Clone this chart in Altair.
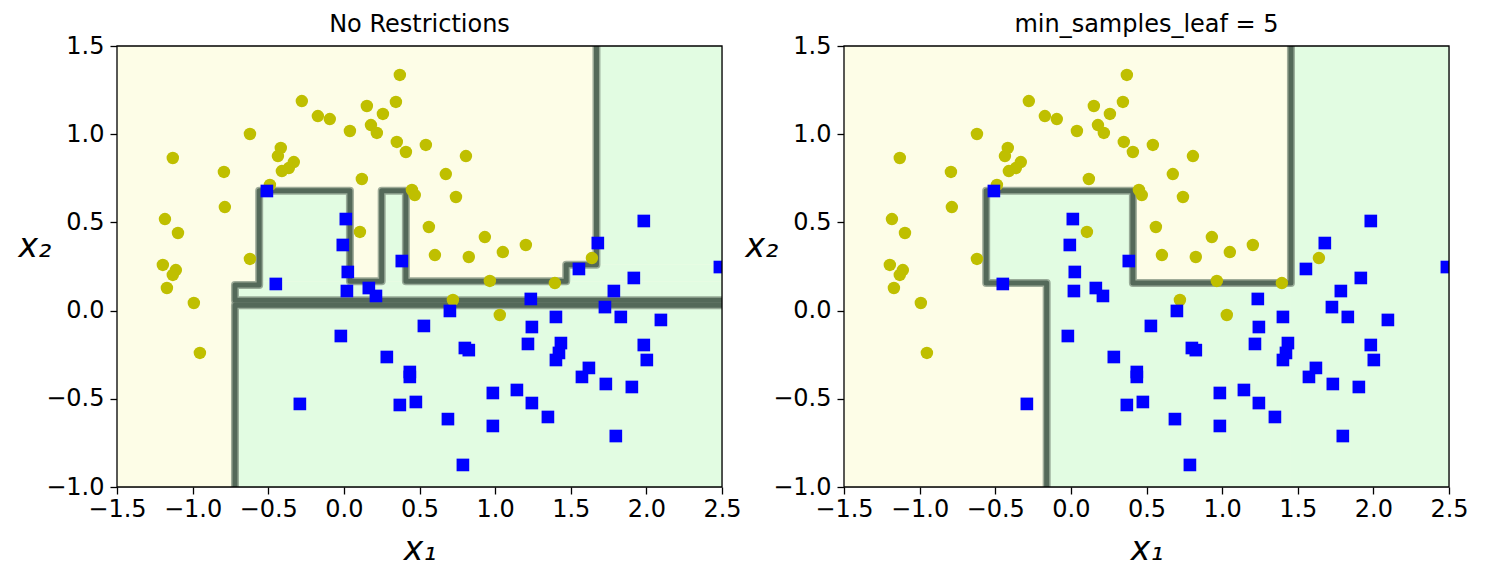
import altair as alt
import pandas as pd

# ---- data ----
yellow_x = [0.370, -0.278, -0.172, -0.093, 0.152, 0.258, 0.344, 0.179, 0.218, 0.040,
            0.350, 0.410, 0.542, -0.621, -1.131, -0.417, -0.436, -0.331, -0.410, -0.364,
            -0.793, -0.787, 0.674, 0.807, 0.741, 0.450, 0.469, 0.562, -1.183, -1.097,
            0.106, 0.119, 0.602, 0.932, 0.826, 1.051, 1.203, 0.965, 1.395, 1.640,
            -1.197, -1.111, -1.131, -1.170, -0.621, -0.992, -0.952, 0.721, 1.031, -0.489]
yellow_y = [1.336, 1.188, 1.103, 1.086, 1.160, 1.115, 1.183, 1.052, 1.007, 1.018,
            0.956, 0.899, 0.939, 1.001, 0.865, 0.922, 0.876, 0.842, 0.791, 0.808,
            0.786, 0.587, 0.774, 0.876, 0.644, 0.684, 0.655, 0.474, 0.519, 0.440,
            0.446, 0.746, 0.315, 0.417, 0.304, 0.332, 0.372, 0.168, 0.156, 0.298,
            0.259, 0.230, 0.202, 0.128, 0.293, 0.043, -0.240, 0.060, -0.025, 0.712]

blue_x = [-0.509, 0.013, -0.007, 0.026, 0.383, 1.983, 1.679, 1.554, 2.486, -0.450,
          -0.291, 0.020, 0.165, 0.212, 0.701, 0.529, -0.020, 0.800, 0.826, 0.284,
          0.436, 0.436, 0.985, 1.144, 0.476, 0.370, 0.688, 0.985, 0.787, 1.917,
          1.785, 1.236, 1.726, 1.402, 1.831, 2.096, 1.243, 1.217, 1.435, 1.422,
          1.402, 1.983, 2.003, 1.620, 1.574, 1.732, 1.904, 1.243, 1.349, 1.798]
blue_y = [0.678, 0.519, 0.372, 0.219, 0.281, 0.508, 0.383, 0.236, 0.247, 0.151,
          -0.529, 0.111, 0.128, 0.083, -0.002, -0.087, -0.144, -0.212, -0.224, -0.263,
          -0.348, -0.376, -0.467, -0.450, -0.518, -0.535, -0.615, -0.654, -0.875, 0.185,
          0.111, 0.066, 0.020, -0.036, -0.036, -0.053, -0.093, -0.189, -0.184, -0.240,
          -0.280, -0.195, -0.280, -0.325, -0.376, -0.416, -0.433, -0.524, -0.603, -0.711]

# decision regions (class 1, green) - left panel
left_rx = [1.67, 1.47, -0.56, -0.72, -0.56, 0.25, -0.72]
left_rx2 = [2.5, 2.5, 2.5, 2.5, 0.04, 0.41, 2.5]
left_ry = [0.26, 0.167, 0.145, 0.058, 0.167, 0.167, -1.0]
left_ry2 = [1.5, 0.26, 0.167, 0.145, 0.68, 0.68, 0.03]
# decision boundaries - left panel
left_b1_x = [1.67, 1.67, 1.47, 1.47, 0.41, 0.41, 0.25, 0.25, 0.04, 0.04, -0.56, -0.56, -0.72, -0.72, 2.6]
left_b1_y = [1.6, 0.26, 0.26, 0.167, 0.167, 0.68, 0.68, 0.167, 0.167, 0.68, 0.68, 0.145, 0.145, 0.058, 0.058]
left_b2_x = [2.6, -0.72, -0.72]
left_b2_y = [0.03, 0.03, -1.1]

# right panel
right_rx = [1.455, -0.16, -0.56]
right_rx2 = [2.5, 1.455, 0.41]
right_ry = [-1.0, -1.0, 0.157]
right_ry2 = [1.5, 0.157, 0.68]
right_b_x = [1.455, 1.455, 0.41, 0.41, -0.56, -0.56, -0.16, -0.16]
right_b_y = [1.6, 0.157, 0.157, 0.68, 0.68, 0.157, 0.157, -1.1]

titles = ["No Restrictions", "min_samples_leaf = 5"]
x_ticks = [-1.5, -1.0, -0.5, 0.0, 0.5, 1.0, 1.5, 2.0, 2.5]
y_ticks = [-1.0, -0.5, 0.0, 0.5, 1.0, 1.5]

FONT = "DejaVu Sans"
xs = alt.Scale(domain=[-1.5, 2.5], nice=False, zero=False)
ys = alt.Scale(domain=[-1.0, 1.5], nice=False, zero=False)

xaxis = alt.Axis(title="x₁", values=x_ticks, format=".1f", labelFlush=False, labelOverlap=False,
                 tickSize=7, tickWidth=1.3, tickColor="black", domain=False, grid=False,
                 labelFontSize=24, labelColor="black", labelFont=FONT, labelPadding=3,
                 titleFontSize=33, titleFontStyle="italic", titleFontWeight="normal",
                 titleFont=FONT, titleColor="black", titleY=72, titleBaseline="alphabetic")
yaxis = alt.Axis(title="x₂", values=y_ticks, format=".1f", labelFlush=False, labelOverlap=False,
                 tickSize=7, tickWidth=1.3, tickColor="black", domain=False, grid=False,
                 labelFontSize=24, labelColor="black", labelFont=FONT, labelPadding=6,
                 titleFontSize=33, titleFontStyle="italic", titleFontWeight="normal",
                 titleFont=FONT, titleColor="black", titleAngle=0, titleAlign="left",
                 titleX=-99, titleY=210, titleBaseline="alphabetic")

pts_y = pd.DataFrame({"x": yellow_x, "y": yellow_y})
pts_b = pd.DataFrame({"x": blue_x, "y": blue_y})
full = pd.DataFrame({"x": [-1.5], "x2": [2.5], "y": [-1.0], "y2": [1.5]})


def panel(title, rx, rx2, ry, ry2, paths):
    bg = alt.Chart(full).mark_rect(color="#fdfde7").encode(
        x=alt.X("x:Q", scale=xs, axis=xaxis), x2="x2:Q",
        y=alt.Y("y:Q", scale=ys, axis=yaxis), y2="y2:Q")
    green = alt.Chart(pd.DataFrame({"x": rx, "x2": rx2, "y": ry, "y2": ry2})).mark_rect(
        color="#e2fce2", clip=True).encode(
        x=alt.X("x:Q", scale=xs), x2="x2:Q", y=alt.Y("y:Q", scale=ys), y2="y2:Q")
    rows = []
    for pid, (px, py) in enumerate(paths):
        for i, (a, b) in enumerate(zip(px, py)):
            rows.append({"x": a, "y": b, "o": i, "p": pid})
    pdf = pd.DataFrame(rows)
    line_outer = alt.Chart(pdf).mark_line(color="#7f907f", strokeWidth=8, opacity=0.75, clip=True,
                                          strokeJoin="round").encode(
        x=alt.X("x:Q", scale=xs), y=alt.Y("y:Q", scale=ys), detail="p:N", order="o:Q")
    line_inner = alt.Chart(pdf).mark_line(color="#546959", strokeWidth=5, clip=True,
                                          strokeJoin="round").encode(
        x=alt.X("x:Q", scale=xs), y=alt.Y("y:Q", scale=ys), detail="p:N", order="o:Q")
    yel = alt.Chart(pts_y).mark_point(shape="circle", filled=True, size=155, color="#bfbf00",
                                      opacity=1).encode(
        x=alt.X("x:Q", scale=xs), y=alt.Y("y:Q", scale=ys))
    blu = alt.Chart(pts_b).mark_point(shape="square", filled=True, size=160, color="#0000ff",
                                      opacity=1, clip=True).encode(
        x=alt.X("x:Q", scale=xs), y=alt.Y("y:Q", scale=ys))
    frame = alt.Chart(full).mark_rect(fillOpacity=0, stroke="black", strokeWidth=1.3).encode(
        x=alt.X("x:Q", scale=xs), x2="x2:Q", y=alt.Y("y:Q", scale=ys), y2="y2:Q")
    return alt.layer(bg, green, line_outer, line_inner, yel, blu, frame).properties(
        width=605, height=441,
        title=alt.TitleParams(title, fontSize=24, font=FONT, fontWeight="normal", color="black",
                              offset=-3, anchor="middle"))


left = panel(titles[0], left_rx, left_rx2, left_ry, left_ry2,
             [(left_b1_x, left_b1_y), (left_b2_x, left_b2_y)])
right = panel(titles[1], right_rx, right_rx2, right_ry, right_ry2,
              [(right_b_x, right_b_y)])

chart = alt.hconcat(left, right, spacing=2).properties(
    padding={"left": 9, "top": 4, "right": 5, "bottom": 5}
).configure_view(stroke=None).configure(background="white")

chart.save("out.html", embed_options={"renderer": "svg", "actions": False})
